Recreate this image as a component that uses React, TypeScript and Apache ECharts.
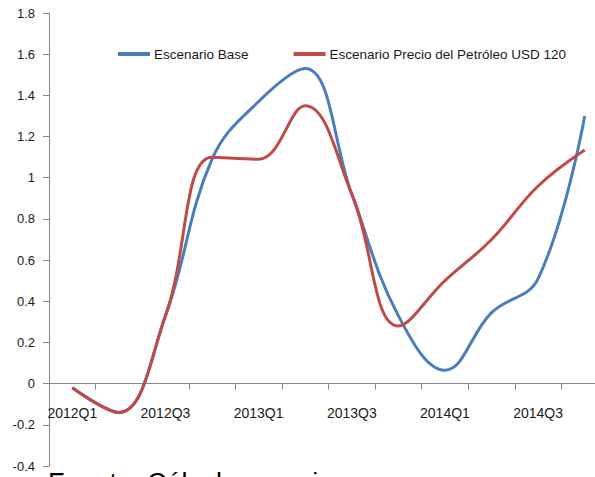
import React, { useEffect, useRef } from "react";
import * as echarts from "echarts";

const categories = [
  "2012Q1", "2012Q2", "2012Q3", "2012Q4",
  "2013Q1", "2013Q2", "2013Q3", "2013Q4",
  "2014Q1", "2014Q2", "2014Q3", "2014Q4",
];
const baseScenario = [-0.02, -0.14, 0.33, 1.09, 1.37, 1.53, 0.92, 0.33, 0.065, 0.345, 0.51, 1.3];
const oilScenario = [-0.02, -0.14, 0.33, 1.1, 1.09, 1.35, 0.92, 0.28, 0.5, 0.7, 0.96, 1.135];
const seriesNames = ["Escenario Base", "Escenario Precio del Petróleo USD 120"];
const sourceNote = "Fuente: Cálculos propios";
const yMin = -0.4;
const yMax = 1.8;

export default function App() {
  const ref = useRef<HTMLDivElement>(null);
  useEffect(() => {
    if (!ref.current) return;
    const chart = echarts.init(ref.current, null, { renderer: "svg" });
    const sans = "'Liberation Sans', Arial, sans-serif";
    const gridTop = 13;
    const gridBottom = 11;
    const plotH = 477 - gridTop - gridBottom;
    // move the category axis up to the zero line (distance from grid bottom to value 0)
    const zeroOffset = -plotH * ((0 - yMin) / (yMax - yMin));
    chart.setOption({
      animation: false,
      backgroundColor: "#ffffff",
      grid: { left: 49, right: -13, top: gridTop, bottom: gridBottom, containLabel: false, outerBoundsMode: "none" },
      legend: {
        left: 113,
        top: 42,
        width: 560,
        icon: "rect",
        itemWidth: 32,
        itemHeight: 4,
        itemGap: 45,
        textStyle: { fontFamily: sans, fontSize: 13.5, color: "#1a1a1a", padding: [0, 0, 0, -1] },
        data: seriesNames,
      },
      xAxis: {
        type: "category",
        data: categories,
        boundaryGap: true,
        position: "bottom",
        offset: zeroOffset,
        axisLine: { onZero: false, lineStyle: { color: "#868686", width: 1 } },
        axisTick: { show: true, interval: 0, length: 6, lineStyle: { color: "#868686" } },
        axisLabel: { interval: 1, margin: 22, fontFamily: sans, fontSize: 14, color: "#1a1a1a" },
        splitLine: { show: false },
      },
      yAxis: {
        type: "value",
        min: yMin,
        max: yMax,
        interval: 0.2,
        axisLine: { show: true, lineStyle: { color: "#868686", width: 1 } },
        axisTick: { show: true, length: 6, lineStyle: { color: "#868686" } },
        axisLabel: {
          margin: 14,
          fontFamily: sans,
          fontSize: 13,
          color: "#1a1a1a",
          formatter: (v: number) => String(Math.round(v * 10) / 10),
        },
        splitLine: { show: false },
      },
      series: [
        {
          name: seriesNames[0],
          type: "line",
          data: baseScenario,
          smooth: 0.4,
          showSymbol: false,
          lineStyle: { color: "#4a7ebb", width: 3 },
          itemStyle: { color: "#4a7ebb" },
        },
        {
          name: seriesNames[1],
          type: "line",
          data: oilScenario,
          smooth: 0.4,
          showSymbol: false,
          lineStyle: { color: "#be4b48", width: 3 },
          itemStyle: { color: "#be4b48" },
        },
      ],
      graphic: [
        {
          type: "text",
          left: 48,
          top: 469,
          style: {
            text: sourceNote,
            fontFamily: sans,
            fontSize: 27,
            fill: "#000000",
          },
        },
      ],
    });
    return () => chart.dispose();
  }, []);
  return <div ref={ref} style={{ width: 595, height: 477, position: "absolute", left: 0, top: 0 }} />;
}
